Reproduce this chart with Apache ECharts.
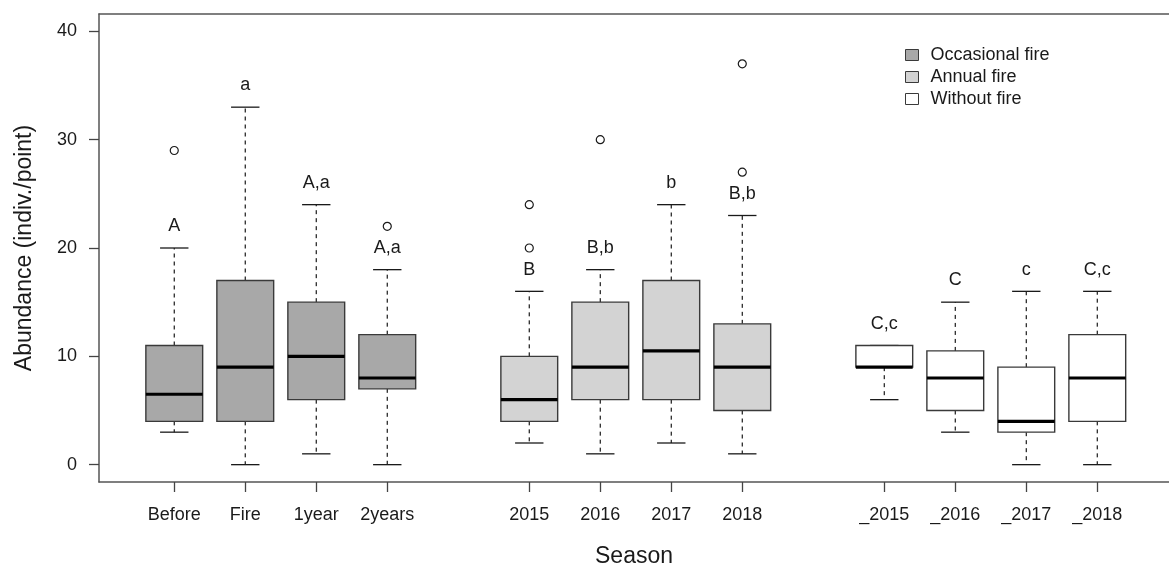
<!DOCTYPE html>
<html>
<head>
<meta charset="utf-8">
<title>Abundance by season</title>
<script src="https://cdn.jsdelivr.net/npm/echarts@6/dist/echarts.min.js"></script>
<style>
  html, body { margin: 0; padding: 0; background: #fff; }
  #chart { width: 1169px; height: 573px; }
</style>
</head>
<body>
<div id="chart"></div>
<script>
// Season labels, in plotting order
const categories = ['Before', 'Fire', '1year', '2years', '2015', '2016', '2017', '2018', '_2015', '_2016', '_2017', '_2018'];
// Fire regime of each box
const regimes = ['Occasional fire', 'Annual fire', 'Without fire'];
const regimeOf = [0, 0, 0, 0, 1, 1, 1, 1, 2, 2, 2, 2];

// Five-number summaries (indiv./point)
const whiskerLow = [3, 0, 1, 0, 2, 1, 2, 1, 6, 3, 0, 0];
const quart1 = [4, 4, 6, 7, 4, 6, 6, 5, 9, 5, 3, 4];
const medians = [6.5, 9, 10, 8, 6, 9, 10.5, 9, 9, 8, 4, 8];
const quart3 = [11, 17, 15, 12, 10, 15, 17, 13, 11, 10.5, 9, 12];
const whiskerHigh = [20, 33, 24, 18, 16, 18, 24, 23, 11, 15, 16, 16];

// Outlying observations: box index and value
const outlierBox = [0, 3, 4, 4, 5, 7, 7];
const outlierValue = [29, 22, 20, 24, 30, 27, 37];

// Significance letters and the height they are written at
const letters = ['A', 'a', 'A,a', 'A,a', 'B', 'B,b', 'b', 'B,b', 'C,c', 'C', 'c', 'C,c'];
const letterY = [22, 35, 26, 20, 18, 20, 26, 25, 13, 17, 18, 18];

// Y axis tick labels
const yTicks = [0, 10, 20, 30, 40];

// Boxes sit at 1..4, 6..9, 11..14, leaving a blank slot between regimes
const positions = categories.map((c, i) => i + Math.floor(i / 4) + 1);

const fills = ['#a8a8a8', '#d3d3d3', '#ffffff'];
const FONT = '"Liberation Sans", Arial, sans-serif';
const INK = '#1a1a1a';
const EDGE = '#3a3a3a';
const FRAME = { color: '#555', width: 1.5 };
const X_MIN = -0.06, X_MAX = 15.01;

function renderBox(params, api) {
  const x = api.value(0);
  const lo = api.value(1), q1 = api.value(2), md = api.value(3), q3 = api.value(4), hi = api.value(5);
  const ly = api.value(6);
  const label = api.value(7);
  const half = api.size([0.4, 0])[0];
  const capHalf = api.size([0.2, 0])[0];
  const pt = v => api.coord([x, v]);
  const cx = pt(0)[0];
  const yLo = pt(lo)[1], yQ1 = pt(q1)[1], yMd = pt(md)[1], yQ3 = pt(q3)[1], yHi = pt(hi)[1];
  const children = [];
  const dashed = { stroke: INK, lineWidth: 1.2, lineDash: [4, 4] };
  const solid = { stroke: INK, lineWidth: 1.3 };
  if (hi > q3) children.push({ type: 'line', shape: { x1: cx, y1: yQ3, x2: cx, y2: yHi }, style: dashed });
  if (lo < q1) children.push({ type: 'line', shape: { x1: cx, y1: yQ1, x2: cx, y2: yLo }, style: dashed });
  children.push({ type: 'line', shape: { x1: cx - capHalf, y1: yHi, x2: cx + capHalf, y2: yHi }, style: solid });
  children.push({ type: 'line', shape: { x1: cx - capHalf, y1: yLo, x2: cx + capHalf, y2: yLo }, style: solid });
  children.push({
    type: 'rect',
    shape: { x: cx - half, y: yQ3, width: half * 2, height: yQ1 - yQ3 },
    style: { fill: api.visual('color'), stroke: EDGE, lineWidth: 1.4 }
  });
  children.push({ type: 'line', shape: { x1: cx - half, y1: yMd, x2: cx + half, y2: yMd }, style: { stroke: '#000', lineWidth: 3.2 } });
  children.push({
    type: 'text',
    style: {
      text: label, x: cx, y: pt(ly)[1],
      align: 'center', verticalAlign: 'middle',
      font: '18px ' + FONT, fill: INK
    }
  });
  return { type: 'group', children: children };
}

const boxSeries = regimes.map((name, g) => ({
  name: name,
  type: 'custom',
  renderItem: renderBox,
  itemStyle: { color: fills[g], borderColor: EDGE, borderWidth: 1 },
  encode: { x: 0, y: [1, 2, 3, 4, 5, 6] },
  data: categories.map((c, i) => i).filter(i => regimeOf[i] === g).map(i =>
    [positions[i], whiskerLow[i], quart1[i], medians[i], quart3[i], whiskerHigh[i], letterY[i], letters[i]]),
  z: 3
}));

const outlierSeries = {
  name: 'outliers',
  type: 'scatter',
  symbol: 'circle',
  symbolSize: 8,
  itemStyle: { color: '#fff', borderColor: INK, borderWidth: 1.2, opacity: 1 },
  data: outlierBox.map((b, k) => [positions[b], outlierValue[k]]),
  z: 4
};

const chart = echarts.init(document.getElementById('chart'), null, { renderer: 'canvas' });
chart.setOption({
  animation: false,
  backgroundColor: '#fff',
  textStyle: { fontFamily: FONT },
  grid: { left: 99, top: 14, right: 0, bottom: 86 },
  legend: {
    data: regimes,
    orient: 'vertical',
    left: 900, top: 41,
    icon: 'rect',
    itemWidth: 13, itemHeight: 11, itemGap: 4,
    itemStyle: { borderColor: EDGE, borderWidth: 1 },
    textStyle: { fontSize: 18, lineHeight: 18, color: INK, fontFamily: FONT, padding: [0, 0, 0, 7] },
    selectedMode: false
  },
  xAxis: [{
    type: 'value',
    min: X_MIN, max: X_MAX,
    name: 'Season',
    nameLocation: 'middle',
    nameGap: 63,
    nameTextStyle: { fontSize: 23, color: INK, fontFamily: FONT, padding: [0, 0, 0, 0] },
    axisLine: { show: true, onZero: false, lineStyle: FRAME },
    axisTick: { show: true, inside: false, length: 10, customValues: positions, lineStyle: { color: '#444', width: 1.3 } },
    axisLabel: {
      customValues: positions,
      margin: 24,
      fontSize: 18, color: INK, fontFamily: FONT,
      formatter: v => categories[positions.indexOf(Math.round(v))] || ''
    },
    splitLine: { show: false }
  }, {
    // top edge of the plot frame
    type: 'value',
    position: 'top',
    min: X_MIN, max: X_MAX,
    axisLine: { show: true, onZero: false, lineStyle: FRAME },
    axisTick: { show: false },
    axisLabel: { show: false },
    splitLine: { show: false }
  }],
  yAxis: {
    type: 'value',
    min: -1.6, max: 41.6,
    name: 'Abundance (indiv./point)',
    nameLocation: 'middle',
    nameGap: 63,
    nameTextStyle: { fontSize: 23, color: INK, fontFamily: FONT },
    axisLine: { show: true, onZero: false, lineStyle: FRAME },
    axisTick: { show: true, inside: false, length: 10, customValues: yTicks, lineStyle: { color: '#444', width: 1.3 } },
    axisLabel: { customValues: yTicks, margin: 22, fontSize: 18, color: INK, fontFamily: FONT },
    splitLine: { show: false }
  },
  series: boxSeries.concat([outlierSeries])
});
</script>
</body>
</html>
